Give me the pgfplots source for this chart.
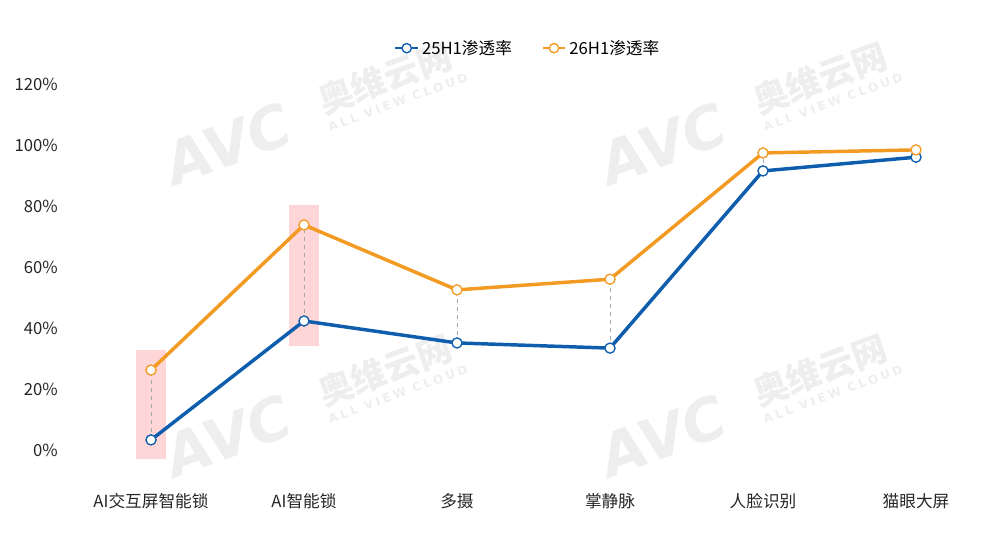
\documentclass[border=0pt]{standalone}
\usepackage{fontspec}
\usepackage{pgfplots}
\pgfplotsset{compat=1.18}
\setmainfont{Noto Sans CJK SC}
\newfontfamily\wmfont[FakeSlant=0.15]{DejaVu Sans}
\newfontfamily\wmsmall[LetterSpace=25]{DejaVu Sans}
\definecolor{avcblue}{HTML}{0F5EAE}
\definecolor{avcorange}{HTML}{F39A23}
\definecolor{hlpink}{HTML}{FFD6D8}
\definecolor{dashgray}{HTML}{A8A8A8}
\definecolor{wmgray}{HTML}{EEEEEE}

\newcommand{\watermark}[2]{%
  \begin{scope}[shift={(#1,#2)}, wmgray]
    \node[rotate=20] at (0pt,0pt) {\wmfont\bfseries\fontsize{44}{44}\selectfont AVC};
    \node[rotate=20] at (120pt,50.25pt) {\bfseries\fontsize{26}{26}\selectfont 奥维云网};
    \node[rotate=20] at (129.75pt,32.25pt) {\wmsmall\bfseries\fontsize{9}{9}\selectfont ALL VIEW CLOUD};
  \end{scope}}

\begin{document}
\begin{tikzpicture}
  \useasboundingbox (0,0) rectangle (750pt,405.75pt);
  \watermark{168.75pt}{297pt}
  \watermark{495pt}{297pt}
  \watermark{168.75pt}{78pt}
  \watermark{495pt}{78pt}
  \begin{axis}[
    at={(55.875pt,45.375pt)}, anchor=south west,
    scale only axis,
    width=688.5pt, height=308.8pt,
    xmin=-0.5, xmax=5.5, ymin=-10, ymax=125,
    axis line style={draw=none},
    tick style={draw=none},
    major tick length=0pt,
    xtick={0,1,2,3,4,5},
    xticklabels={AI交互屏智能锁, AI智能锁, 多摄, 掌静脉, 人脸识别, 猫眼大屏},
    ytick={0,20,40,60,80,100,120},
    yticklabels={0\%,20\%,40\%,60\%,80\%,100\%,120\%},
    /pgf/number format/assume math mode=true,
    ticklabel style={font=\fontsize{12.5}{14}\selectfont, text=black!85},
    yticklabel style={xshift=-9pt},
    xticklabel style={yshift=-6pt},
    clip=false,
    legend style={at={(0.494,1.05)}, anchor=center, draw=none, fill=none,
      legend columns=2, font=\fontsize{12.5}{14}\selectfont,
      /tikz/every even column/.append style={column sep=20pt}},
    legend image post style={line width=2pt, mark size=3.5pt},
  ]
  % highlight boxes
  \addplot[fill=hlpink, draw=none, forget plot] coordinates
    {(-0.095,-3) (0.095,-3) (0.095,32.8) (-0.095,32.8)} -- cycle;
  \addplot[fill=hlpink, draw=none, forget plot] coordinates
    {(0.905,34) (1.095,34) (1.095,80.3) (0.905,80.3)} -- cycle;

  \addplot[avcblue, line width=2.6pt, mark=*, mark size=3.8pt,
    mark options={fill=white, draw=avcblue, line width=1pt}]
    coordinates {(0,3.3) (1,42.3) (2,35.1) (3,33.4) (4,91.5) (5,96.0)};
  \addlegendentry{25H1渗透率}

  \addplot[avcorange, line width=2.6pt, mark=*, mark size=3.8pt,
    mark options={fill=white, draw=avcorange, line width=1pt}]
    coordinates {(0,26.2) (1,73.8) (2,52.5) (3,56.0) (4,97.4) (5,98.4)};
  \addlegendentry{26H1渗透率}

  % connectors
  \addplot[dashgray, dashed, line width=0.6pt, forget plot] coordinates {(0,3.3) (0,26.2)};
  \addplot[dashgray, dashed, line width=0.6pt, forget plot] coordinates {(1,42.3) (1,73.8)};
  \addplot[dashgray, dashed, line width=0.6pt, forget plot] coordinates {(2,35.1) (2,52.5)};
  \addplot[dashgray, dashed, line width=0.6pt, forget plot] coordinates {(3,33.4) (3,56.0)};
  \addplot[dashgray, dashed, line width=0.6pt, forget plot] coordinates {(4,91.5) (4,97.4)};
  \addplot[dashgray, dashed, line width=0.6pt, forget plot] coordinates {(5,96.0) (5,98.4)};
  \end{axis}
\end{tikzpicture}
\end{document}
